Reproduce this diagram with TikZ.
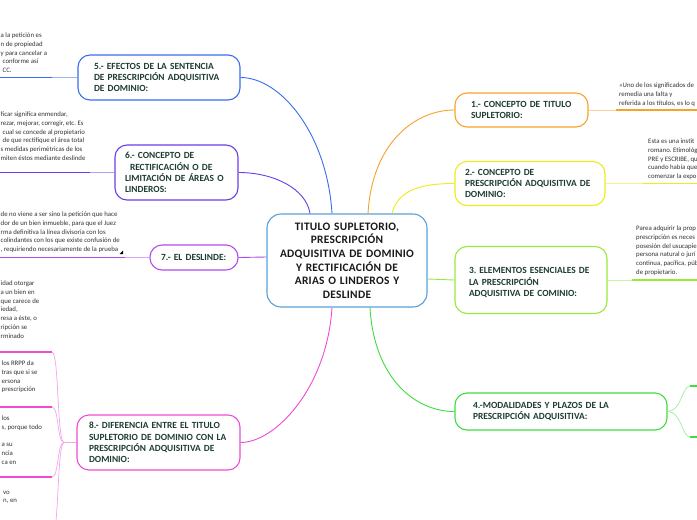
\documentclass[tikz,border=0pt]{standalone}
\usepackage{fontspec}
\setmainfont{Carlito}
\newfontfamily\spacedfont[LetterSpace=2.5]{Carlito}
\usepackage{xcolor}
\usepackage{tikz}
\usetikzlibrary{positioning, calc}
\frenchspacing

\definecolor{txtgreen}{HTML}{1E3D32}
\definecolor{notegray}{HTML}{333333}
\definecolor{rootblue}{HTML}{5AA0DC}
\definecolor{corange}{HTML}{F5A32A}
\definecolor{cyellow}{HTML}{ECEC1E}
\definecolor{clime}{HTML}{9BE83C}
\definecolor{cgreen}{HTML}{3FDC3F}
\definecolor{cblue}{HTML}{3A6CEE}
\definecolor{cviolet}{HTML}{6A3CEA}
\definecolor{cpurple}{HTML}{B04CEE}
\definecolor{cmagenta}{HTML}{EE4CD6}

\tikzset{
  %% Central topic
  root/.style={
    rectangle, rounded corners=14pt,
    draw=rootblue, fill=white, line width=1.1pt,
    align=center, text=black!90, inner xsep=8pt,
    font=\spacedfont\fontsize{11.4}{13.6}\selectfont\bfseries
  },
  %% Main topic box
  topic/.style={
    rectangle, rounded corners=12pt,
    draw=#1, fill=white, line width=1.1pt,
    align=left, text=txtgreen,
    font=\fontsize{9.4}{11.3}\selectfont\bfseries
  },
  topic/.default=cblue,
  %% Note text sitting on an underline
  note/.style={
    anchor=north west, inner sep=0pt, align=left, text=notegray,
    font=\fontsize{6.8}{8.8}\selectfont
  },
  %% Connectors
  conn/.style={draw=#1, line width=0.9pt},
  twig/.style={draw=#1!50, line width=0.7pt},
  uline/.style={draw=#1, line width=1.8pt},
}

\begin{document}
\begin{tikzpicture}[x=1pt, y=-1pt]

  \path[use as bounding box] (0,0) rectangle (697,520);
  \clip (0,0) rectangle (697,520);
  \fill[white] (0,0) rectangle (697,520);

  %% Central topic
  \node[root, text width=144pt, minimum height=93pt] (root) at (347,260.5)
        {TITULO SUPLETORIO,\\PRESCRIPCIÓN\\ADQUISITIVA DE DOMINIO\\Y RECTIFICACIÓN DE\\ARIAS O LINDEROS Y\\DESLINDE};

  %% Right topics
  \node[topic=corange, inner xsep=16pt, text width=101pt, minimum height=34pt] (t1) at (521.5,110)
        {1.- CONCEPTO DE TITULO\\SUPLETORIO:};
  \node[topic=cyellow, inner xsep=10pt, text width=130pt, minimum height=44pt] (t2) at (530,183.5)
        {2.- CONCEPTO DE\\PRESCRIPCIÓN ADQUISITIVA DE\\DOMINIO:};
  \node[topic=clime, inner xsep=14pt, text width=124pt, minimum height=67pt] (t3) at (531,280)
        {\mbox{}\\3. ELEMENTOS ESENCIALES DE\\LA PRESCRIPCIÓN\\ADQUISITIVA DE COMINIO:};
  \node[topic=cgreen, inner xsep=18pt, text width=176pt, minimum height=37pt] (t4) at (561,411.5)
        {4.-MODALIDADES Y PLAZOS DE LA\\PRESCRIPCIÓN ADQUISITIVA:};

  %% Left topics
  \node[topic=cblue, inner xsep=16pt, text width=130pt, minimum height=45pt] (t5) at (159,77.5)
        {5.- EFECTOS DE LA SENTENCIA\\DE PRESCRIPCIÓN ADQUISITIVA\\DE DOMINIO:};
  \node[topic=cviolet, inner xsep=10pt, text width=103pt, minimum height=55pt] (t6) at (176.5,172.5)
        {6.- CONCEPTO DE\\\hspace*{5pt}RECTIFICACIÓN O DE\\LIMITACIÓN DE ÁREAS O\\LINDEROS:};
  \node[topic=cpurple, inner xsep=11pt, text width=66pt, minimum height=25pt] (t7) at (194,257.5)
        {7.- EL DESLINDE:};
  \node[topic=cmagenta, inner xsep=12pt, text width=139pt, minimum height=55pt] (t8) at (158.5,442.5)
        {8.- DIFERENCIA ENTRE EL TITULO\\SUPLETORIO DE DOMINIO CON LA\\PRESCRIPCIÓN ADQUISITIVA DE\\DOMINIO:};

  %% Notes
  \node[note] (n1) at (619,82.5)
        {«Uno de los significados de\\remedia una falta y\\referida a los títulos, es lo q};
  \node[note] (n2) at (648,138.5)
        {Esta es una instit\\romano. Etimológ\\PRE y ESCRIBE, qu\\cuando había que\\comenzar la expo};
  \node[note] (n3) at (636,225.5)
        {Parea adquirir la prop\\prescripción es neces\\posesión del usucapie\\persona natural o jurí\\continua, pacífica, púb\\de propietario.};
  \node[note] (n5) at (0.5,32.5)
        {a la petición es\\n de propiedad\\y para cancelar a\\\hspace*{2pt}conforme así\\\hspace*{2pt}CC.};
  \node[note] (n6) at (0.5,111.5)
        {ficar significa enmendar,\\rezar, mejorar, corregir, etc. Es\\\hspace*{2pt}cual se concede al propietario\\\hspace*{2pt}de que rectifique el área total\\s medidas perimétricas de los\\miten éstos mediante deslinde};
  \node[note] (n7) at (0.5,211.5)
        {de no viene a ser sino la petición que hace\\dor de un bien inmueble, para que el Juez\\rma definitiva la línea divisoria con los\\colindantes con los que existe confusión de\\, requiriendo necesariamente de la prueba};
  \node[note] (n8a) at (0.5,280.5)
        {idad otorgar\\a un bien en\\que carece de\\iedad,\\resa a éste, o\\ripción se\\rminado};
  \node[note] (n8b) at (1.5,360.5)
        {los RRPP da\\tras que si se\\ersona\\prescripción};
  \node[note] (n8c) at (1.5,415.5)
        {los\\s, porque todo\\\mbox{}\\a su\\ncia\\ca en};
  \node[note] (n8d) at (3,490.5)
        {vo\\n, en};
  \fill (119.5,254) -- (123,254) -- (123,250.5) -- cycle;

  %% Underline starts
  \coordinate (u1) at (616,110);
  \coordinate (u2) at (643,183.5);
  \coordinate (u3) at (632,280);
  \coordinate (u4a) at (690,386);
  \coordinate (u4b) at (690,437);
  \coordinate (u5) at (52,77.5);
  \coordinate (u6) at (90,172.5);
  \coordinate (u7) at (125,257.5);
  \coordinate (b8) at (64,442.5);
  \coordinate (u8a) at (52,352);
  \coordinate (u8b) at (52,407);
  \coordinate (u8c) at (52,477);
  \coordinate (u8d) at (52,537);

  %% Central connectors
  \draw[conn=corange] ([xshift=21pt]root.north) .. controls +(4,-70) and +(-40,0) .. (t1.west);
  \draw[conn=cyellow] ([xshift=45pt]root.north) .. controls +(6,-25) and +(-30,0) .. (t2.west);
  \draw[conn=clime] ([yshift=-18.5pt]root.east) .. controls +(14,0) and +(-14,0) .. (t3.west);
  \draw[conn=cgreen] ([xshift=23pt]root.south) .. controls +(4,70) and +(-40,0) .. (t4.west);
  \draw[conn=cblue] ([xshift=-15pt]root.north) .. controls +(-5,-80) and +(40,0) .. (t5.east);
  \draw[conn=cviolet] ([xshift=-37pt]root.north) .. controls +(-4,-25) and +(35,0) .. (t6.east);
  \draw[conn=cpurple] ([yshift=3.5pt]root.west) -- (t7.east);
  \draw[conn=cmagenta] ([xshift=-15pt]root.south) .. controls +(-5,80) and +(35,0) .. (t8.east);

  %% Twigs to the notes
  \draw[twig=corange] (t1.east) -- (u1);
  \draw[twig=cyellow] (t2.east) -- (u2);
  \draw[twig=clime] (t3.east) -- (u3);
  \draw[twig=cgreen] (t4.east) .. controls +(14,0) and +(-8,0) .. (u4a);
  \draw[twig=cgreen] (t4.east) .. controls +(14,0) and +(-8,0) .. (u4b);
  \draw[twig=cblue] (t5.west) -- (u5);
  \draw[twig=cviolet] (t6.west) -- (u6);
  \draw[twig=cpurple] (t7.west) -- (u7);
  \draw[twig=cmagenta] (t8.west) -- (b8);
  \foreach \u in {u8a, u8b, u8c, u8d}
    \draw[twig=cmagenta] (b8) .. controls +(-7,0) and +(7,0) .. (\u);

  %% Underlines
  \foreach \u/\col in {u1/corange, u2/cyellow, u3/clime, u4a/cgreen, u4b/cgreen}
    \draw[uline=\col] (\u) -- ++(90,0);
  \foreach \u/\col in {u5/cblue, u6/cviolet, u7/cpurple, u8a/cmagenta, u8b/cmagenta, u8c/cmagenta, u8d/cmagenta}
    \draw[uline=\col] (\u) -- ++(-130,0);

\end{tikzpicture}
\end{document}
